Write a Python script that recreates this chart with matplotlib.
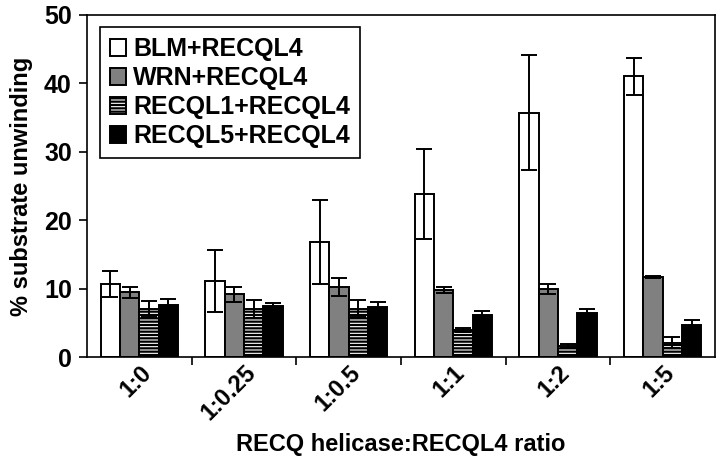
import numpy as np
import matplotlib
matplotlib.use('Agg')
import matplotlib.pyplot as plt

plt.rcParams['font.family'] = ['Liberation Sans', 'DejaVu Sans']
plt.rcParams['font.weight'] = 'bold'
plt.rcParams['hatch.linewidth'] = 1.6
plt.rcParams['hatch.color'] = 'black'

ratios = ['1:0', '1:0.25', '1:0.5', '1:1', '1:2', '1:5']
series = ['BLM+RECQL4', 'WRN+RECQL4', 'RECQL1+RECQL4', 'RECQL5+RECQL4']

blm = [10.7, 11.1, 16.8, 23.8, 35.7, 41.0]
blm_err = [1.9, 4.5, 6.1, 6.6, 8.4, 2.7]
wrn = [9.5, 9.2, 10.2, 9.8, 10.0, 11.7]
wrn_err = [0.8, 1.1, 1.3, 0.45, 0.75, 0.1]
recql1 = [7.0, 7.0, 7.1, 3.9, 1.6, 2.1]
recql1_err = [1.2, 1.3, 1.3, 0.3, 0.3, 0.8]
recql5 = [7.6, 7.4, 7.25, 6.1, 6.5, 4.7]
recql5_err = [0.9, 0.55, 0.75, 0.7, 0.55, 0.75]

values = [blm, wrn, recql1, recql5]
errors = [blm_err, wrn_err, recql1_err, recql5_err]
colors = ['white', '#808080', 'white', 'black']
hatches = [None, None, '-----', None]

fig = plt.figure(figsize=(7.2, 4.62), dpi=100)
ax = fig.add_axes([0.121, 0.227, 0.872, 0.741])

x = np.arange(len(ratios))
w = 0.185
for i in range(4):
    ax.bar(x + (i - 1.5) * w, values[i], w, color=colors[i], edgecolor='black',
           linewidth=1.4, hatch=hatches[i], label=series[i],
           yerr=errors[i], capsize=6,
           error_kw=dict(elinewidth=1.4, capthick=1.4, ecolor='black'))

ax.set_xlim(-0.5, 5.5)
ax.set_ylim(0, 50)
ax.set_yticks([0, 10, 20, 30, 40, 50])
ax.set_xticks(x)
ax.set_xticklabels(ratios, rotation=45, ha='right', va='top', rotation_mode='anchor')
ax.set_xticks(np.arange(0.5, 5.5, 1), minor=True)
ax.tick_params(axis='x', which='major', length=0, pad=3, labelsize=17)
ax.tick_params(axis='x', which='minor', length=6, width=1.2)
ax.tick_params(axis='y', length=6, width=1.2, labelsize=18, pad=5)
for s in ax.spines.values():
    s.set_linewidth(1.2)

ax.set_ylabel('% substrate unwinding', fontsize=17, fontweight='bold', labelpad=8)
ax.set_xlabel('RECQ helicase:RECQL4 ratio', fontsize=17, fontweight='bold', labelpad=6)

leg = ax.legend(loc='upper left', fontsize=18, frameon=True, fancybox=False,
                edgecolor='black', borderaxespad=0.5, handlelength=0.65,
                handleheight=0.65, handletextpad=0.3, labelspacing=0.2,
                borderpad=0.4)
leg.get_frame().set_linewidth(1.2)
leg.get_frame().set_alpha(1)

fig.savefig('out.png', dpi=100)
